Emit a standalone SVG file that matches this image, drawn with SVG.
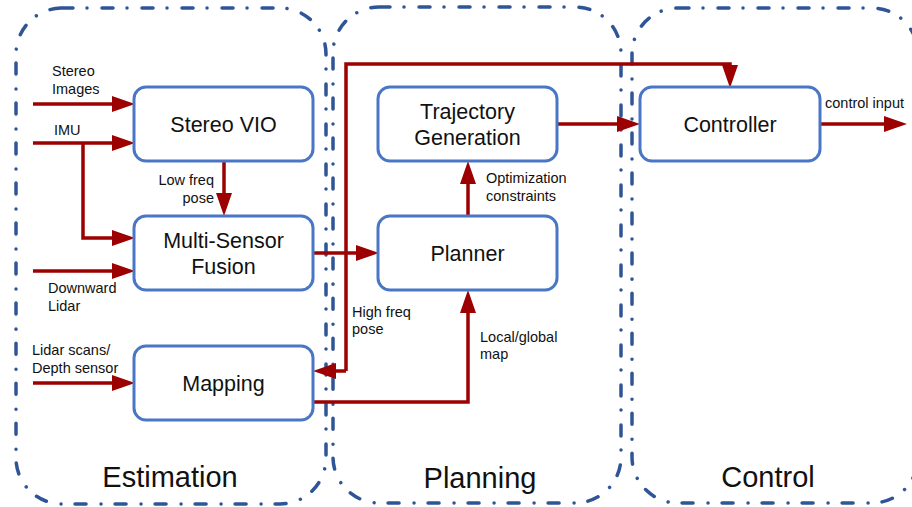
<svg xmlns="http://www.w3.org/2000/svg" width="912" height="507" viewBox="0 0 912 507">
  <defs>
    <marker id="arrow" markerUnits="userSpaceOnUse" markerWidth="23" markerHeight="16" refX="0" refY="8" orient="auto" overflow="visible">
      <path d="M0,0 L23,8 L0,16 z" fill="#9c0000"/>
    </marker>
    <style>
      .zone { fill: none; stroke: #2f5597; stroke-width: 3.5; stroke-linecap: round; stroke-dasharray: 11 14 0.01 15; }
      .zone-label { font-family: "Liberation Sans", Arial, sans-serif; font-size: 29px; fill: #111; text-anchor: middle; }
      .box { fill: #fff; stroke: #4a76c6; stroke-width: 3; }
      .box-label { font-family: "Liberation Sans", Arial, sans-serif; font-size: 21.5px; fill: #111; text-anchor: middle; }
      .note { font-family: "Liberation Sans", Arial, sans-serif; font-size: 14.5px; fill: #111; }
      .wire-arrow { fill: none; stroke: #9c0000; stroke-width: 3.5; marker-end: url(#arrow); }
    </style>
  </defs>

  <!-- stage regions -->
  <g id="zone-estimation">
    <rect class="zone" x="16" y="8" width="310" height="496" rx="46" ry="46"/>
    <text class="zone-label" x="170" y="487">Estimation</text>
  </g>
  <g id="zone-planning">
    <rect class="zone" x="333" y="7" width="288" height="496" rx="46" ry="46"/>
    <text class="zone-label" x="480" y="488">Planning</text>
  </g>
  <g id="zone-control">
    <rect class="zone" x="632" y="8" width="286" height="495" rx="46" ry="46"/>
    <text class="zone-label" x="768" y="487">Control</text>
  </g>

  <!-- connectors -->
  <g id="connectors">
    <path class="wire-arrow" d="M33,104 H112"/>
    <path class="wire-arrow" d="M33,143 H112"/>
    <path class="wire-arrow" d="M83,143 V238 H112"/>
    <path class="wire-arrow" d="M224,161 V193"/>
    <path class="wire-arrow" d="M33,271 H112"/>
    <path class="wire-arrow" d="M33,383 H112"/>
    <path class="wire-arrow" d="M313,253 H356"/>
    <path class="wire-arrow" d="M346,371 V64 H730 V65"/>
    <path class="wire-arrow" d="M346,371 H336"/>
    <path class="wire-arrow" d="M313,402 H468 V313"/>
    <path class="wire-arrow" d="M468,216 V184"/>
    <path class="wire-arrow" d="M557,124 H617"/>
    <path class="wire-arrow" d="M820,124 H884"/>
  </g>

  <!-- input / edge labels -->
  <g id="labels">
    <text class="note" x="52" y="76">Stereo</text>
    <text class="note" x="52" y="94">Images</text>
    <text class="note" x="54" y="135">IMU</text>
    <text class="note" x="214" y="185" text-anchor="end">Low freq</text>
    <text class="note" x="214" y="203" text-anchor="end">pose</text>
    <text class="note" x="48" y="293">Downward</text>
    <text class="note" x="48" y="311">Lidar</text>
    <text class="note" x="32" y="355">Lidar scans/</text>
    <text class="note" x="32" y="373">Depth sensor</text>
    <text class="note" x="352" y="317">High freq</text>
    <text class="note" x="352" y="334">pose</text>
    <text class="note" x="486" y="183">Optimization</text>
    <text class="note" x="486" y="201">constraints</text>
    <text class="note" x="480" y="342">Local/global</text>
    <text class="note" x="480" y="359">map</text>
    <text class="note" x="825" y="108">control input</text>
  </g>

  <!-- processing blocks -->
  <g id="stereo-vio">
    <rect class="box" x="134" y="87" width="179" height="74" rx="12" ry="12"/>
    <text class="box-label" x="223.5" y="131.5">Stereo VIO</text>
  </g>
  <g id="multi-sensor-fusion">
    <rect class="box" x="134" y="216" width="179" height="74" rx="12" ry="12"/>
    <text class="box-label" x="223.5" y="248">Multi-Sensor</text>
    <text class="box-label" x="223.5" y="274">Fusion</text>
  </g>
  <g id="mapping">
    <rect class="box" x="134" y="346" width="179" height="74" rx="12" ry="12"/>
    <text class="box-label" x="223.5" y="391">Mapping</text>
  </g>
  <g id="trajectory-generation">
    <rect class="box" x="378" y="87" width="179" height="74" rx="12" ry="12"/>
    <text class="box-label" x="467.5" y="119">Trajectory</text>
    <text class="box-label" x="467.5" y="145">Generation</text>
  </g>
  <g id="planner">
    <rect class="box" x="378" y="216" width="179" height="74" rx="12" ry="12"/>
    <text class="box-label" x="467.5" y="261">Planner</text>
  </g>
  <g id="controller">
    <rect class="box" x="640" y="87" width="180" height="74" rx="12" ry="12"/>
    <text class="box-label" x="730" y="131.5">Controller</text>
  </g>
</svg>
